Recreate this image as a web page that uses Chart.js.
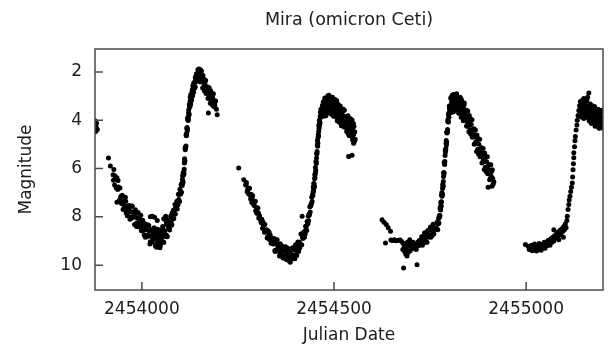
<!DOCTYPE html>
<html>
<head>
<meta charset="utf-8">
<script src="https://cdn.jsdelivr.net/npm/chart.js@4.4.1/dist/chart.umd.min.js"></script>
<style>
  html, body { margin: 0; padding: 0; background: #fff; }
  #wrap { width: 609px; height: 351px; }
</style>
</head>
<body>
<div id="wrap"><canvas id="lightcurve" width="609" height="351"></canvas></div>
<script>
// Mira (omicron Ceti) visual light curve: [Julian Date, magnitude]
const chartTitle = 'Mira (omicron Ceti)';
const xTitle = 'Julian Date';
const yTitle = 'Magnitude';
const xTicks = [2454000, 2454500, 2455000];
const yTicks = [2, 4, 6, 8, 10];
const xRange = [2453878, 2455200];
const yRange = [1.05, 11.03];

const season1 = [
  [2453878,4.02],[2453879,4.18],[2453880,4.47],[2453881,4.29],[2453882,4.12],[2453884,4.38]
];

const season2 = [
  [2453913,5.56],[2453918,5.90],[2453935,7.40],
  [2453925,6.26],[2453927,6.04],[2453929,6.68],[2453931,6.44],[2453933,6.80],[2453935,6.38],[2453937,6.87],[2453939,6.76],[2453941,7.35],[2453943,6.81],
  [2453945,7.18],[2453947,7.45],[2453949,7.11],[2453951,7.70],[2453953,7.35],[2453955,7.64],[2453957,7.19],[2453959,7.83],[2453961,7.55],[2453963,7.70],
  [2453965,7.81],[2453967,7.53],[2453969,8.10],[2453971,7.78],[2453973,8.06],[2453975,7.56],[2453977,7.98],[2453979,7.80],[2453981,8.32],[2453983,7.71],
  [2453985,8.03],[2453987,8.24],[2453989,7.84],[2453991,8.41],[2453993,8.07],[2453995,8.37],[2453997,7.93],[2453999,8.58],[2454001,8.30],[2454003,8.45],
  [2454005,8.56],[2454007,8.28],[2454009,8.85],[2454011,8.53],[2454013,8.82],[2454015,8.33],[2454017,8.76],[2454019,8.59],[2454021,9.12],[2454023,8.52],
  [2454025,8.83],[2454027,9.04],[2454029,8.64],
  [2453926,6.48],[2453930,6.31],[2453934,6.79],[2453938,6.50],[2453942,7.30],[2453946,7.15],[2453950,7.44],[2453954,7.59],[2453958,7.35],[2453962,7.96],
  [2453966,7.68],[2453970,8.01],[2453974,7.55],[2453978,8.00],[2453982,7.84],[2453986,8.40],[2453990,7.82],[2453994,8.20],[2453998,8.48],[2454002,8.14],
  [2454006,8.75],[2454010,8.44],[2454014,8.77],[2454018,8.36],[2454022,9.03],[2454026,8.78],[2454030,8.94],
  [2454031,8.92],[2454033,8.58],[2454035,9.20],[2454037,8.81],[2454039,9.10],[2454041,8.51],[2454043,8.96],[2454045,8.72],[2454047,9.28],[2454049,8.55],
  [2454051,8.85],[2454053,9.02],[2454055,8.50],[2454057,9.06],[2454059,8.58],[2454061,8.81],[2454063,8.18],[2454065,8.78],[2454067,8.35],[2454069,8.39],
  [2454032,8.45],[2454034,8.91],[2454036,8.68],[2454038,9.26],[2454040,8.55],[2454042,8.88],[2454044,9.08],[2454046,8.60],[2454048,9.20],[2454050,8.74],
  [2454052,9.00],[2454054,8.40],[2454056,9.04],[2454058,8.64],[2454060,8.72],[2454062,8.74],[2454064,8.30],[2454066,8.83],[2454068,8.35],
  [2454022,8.00],[2454027,7.98],[2454033,8.02],[2454057,8.08],[2454062,7.98],[2454066,8.12],[2454040,8.15],
  [2454070,8.48],[2454071,8.21],[2454072,8.55],[2454073,8.25],[2454074,8.39],[2454075,7.97],[2454076,8.21],[2454077,8.02],[2454078,8.33],[2454079,7.84],
  [2454080,8.00],[2454081,8.09],[2454082,7.73],[2454083,8.07],[2454084,7.75],[2454085,7.89],[2454086,7.49],[2454087,7.88],[2454088,7.60],[2454089,7.63],
  [2454090,7.63],[2454091,7.35],[2454092,7.68],[2454093,7.37],[2454094,7.50],[2454095,7.06],[2454096,7.28],[2454097,7.08],[2454098,7.37],[2454099,6.86],
  [2454100,7.00],[2454101,7.05],[2454102,6.67],[2454103,6.98],[2454104,6.62],[2454105,6.70],[2454106,6.30],[2454107,6.55],[2454108,6.25],[2454109,6.15],
  [2454110,6.03],[2454111,5.60],[2454112,5.68],[2454113,5.22],[2454114,5.12],[2454115,4.62],[2454116,4.64],[2454117,4.34],[2454118,4.45],[2454119,3.95],
  [2454120,3.98],[2454121,3.94],[2454122,3.57],[2454123,3.74],[2454124,3.39],[2454125,3.43],[2454126,3.05],[2454127,3.29],[2454128,3.03],[2454129,3.02],
  [2454130,2.98],[2454131,2.75],[2454132,2.99],[2454133,2.74],[2454134,2.82],[2454135,2.46],[2454136,2.62],[2454137,2.43],[2454138,2.65],[2454139,2.23],
  [2454140,2.33],[2454141,2.38],[2454142,2.08],[2454143,2.34],[2454144,2.09],[2454145,2.19],[2454146,1.90],[2454147,2.20],[2454148,2.00],[2454149,2.04],
  [2454105.5,6.45],[2454106.5,6.60],[2454107.5,6.17],[2454108.5,6.26],[2454109.5,6.23],[2454110.5,5.77],[2454111.5,5.73],[2454112.5,5.17],[2454113.5,5.12],
  [2454114.5,5.07],[2454115.5,4.57],[2454116.5,4.59],[2454117.5,4.30],[2454118.5,4.37],[2454119.5,3.89],[2454120.5,4.01],[2454121.5,3.69],[2454122.5,3.78],
  [2454123.5,3.34],[2454124.5,3.44],[2454125.5,3.20],[2454126.5,3.35],[2454127.5,2.93],[2454128.5,3.08],[2454129.5,3.16],[2454130.5,2.84],[2454131.5,2.96],
  [2454132.5,2.58],[2454133.5,2.73],[2454134.5,2.84],[2454135.5,2.48],[2454136.5,2.63],[2454137.5,2.45],[2454138.5,2.61],[2454139.5,2.21],[2454140.5,2.40],
  [2454150,2.19],[2454151,1.94],[2454152,2.42],[2454153,2.15],[2454154,2.39],[2454155,1.97],[2454156,2.34],[2454157,2.20],[2454158,2.66],[2454159,2.15],
  [2454160,2.43],[2454161,2.62],[2454162,2.30],[2454163,2.79],[2454164,2.49],[2454165,2.74],[2454166,2.35],[2454167,2.89],[2454168,2.65],[2454169,2.77],
  [2454170,2.86],[2454171,2.62],[2454172,3.10],[2454173,2.83],[2454174,3.07],[2454175,2.65],[2454176,3.01],[2454177,2.85],[2454178,3.30],[2454179,2.78],
  [2454180,3.05],[2454181,3.22],[2454182,2.89],[2454183,3.36],[2454184,3.06],[2454185,3.29],[2454186,2.90],[2454187,3.43],[2454188,3.19],[2454189,3.30],
  [2454190,3.39],[2454192,3.20],[2454194,3.55],[2454196,3.77],[2454149,1.88],[2454153,1.92],[2454147,1.95],[2454173,3.70]
];

const season3 = [
  [2454252,5.98],[2454265,6.46],
  [2454270,6.68],[2454272,6.58],[2454274,6.96],[2454276,6.83],[2454278,7.05],[2454280,6.82],[2454282,7.11],[2454284,7.06],[2454286,7.41],[2454288,7.12],
  [2454290,7.36],[2454292,7.53],[2454294,7.37],[2454296,7.75],[2454298,7.61],[2454300,7.83],[2454302,7.63],[2454304,8.05],[2454306,7.95],[2454308,8.09],
  [2454310,8.21],[2454312,8.10],[2454314,8.47],[2454316,8.34],[2454318,8.55],[2454320,8.32],[2454322,8.60],[2454324,8.54],[2454326,8.88],[2454328,8.58],
  [2454330,8.79],[2454332,8.94],[2454334,8.75],[2454336,9.09],[2454338,8.91],[2454340,9.08],
  [2454271,6.66],[2454275,6.91],[2454279,6.82],[2454283,7.26],[2454287,7.19],[2454291,7.48],[2454295,7.35],[2454299,7.85],[2454303,7.83],[2454307,8.05],
  [2454311,8.24],[2454315,8.21],[2454319,8.64],[2454323,8.57],[2454327,8.83],[2454331,8.64],[2454335,8.95],[2454339,8.91],
  [2454342,9.13],[2454344,8.90],[2454346,9.39],[2454348,9.12],[2454350,9.37],[2454352,8.95],[2454354,9.32],[2454356,9.17],[2454358,9.62],[2454360,9.11],
  [2454362,9.38],[2454364,9.56],[2454366,9.23],[2454368,9.71],[2454370,9.41],[2454372,9.64],[2454374,9.24],[2454376,9.77],[2454378,9.52],[2454380,9.63],
  [2454382,9.70],[2454384,9.43],[2454386,9.88],[2454388,9.57],[2454390,9.76],[2454392,9.28],[2454394,9.58],[2454396,9.36],[2454398,9.74],[2454400,9.16],
  [2454402,9.35],[2454404,9.45],[2454406,9.04],[2454408,9.44],[2454410,9.05],[2454412,9.19],[2454414,8.71],[2454416,9.16],[2454418,8.82],[2454420,8.83],
  [2454343,8.94],[2454347,9.44],[2454351,8.97],[2454355,9.27],[2454359,9.49],[2454363,9.19],[2454367,9.69],[2454371,9.42],[2454375,9.67],[2454379,9.29],
  [2454383,9.82],[2454387,9.54],[2454391,9.60],[2454395,9.59],[2454399,9.24],[2454403,9.60],[2454407,9.20],[2454411,9.28],[2454415,8.71],[2454419,8.90],
  [2454417,7.98],
  [2454421,8.81],[2454422,8.62],[2454423,8.85],[2454424,8.63],[2454425,8.71],[2454426,8.39],[2454427,8.54],[2454428,8.38],[2454429,8.57],[2454430,8.19],
  [2454431,8.26],[2454432,8.29],[2454433,7.98],[2454434,8.16],[2454435,7.89],[2454436,7.92],[2454437,7.58],[2454438,7.80],[2454439,7.55],[2454440,7.52],
  [2454441,7.45],[2454442,7.19],[2454443,7.36],[2454444,7.09],[2454445,7.12],[2454446,6.76],[2454447,6.85],[2454448,6.63],[2454449,6.73],[2454450,6.26],
  [2454451,6.23],[2454452,6.14],[2454453,5.72],[2454454,5.79],[2454455,5.39],[2454456,5.29],[2454457,4.84],[2454458,4.95],[2454459,4.60],[2454460,4.47],
  [2454461,4.34],[2454462,4.02],[2454463,4.15],[2454464,3.83],[2454465,3.88],[2454466,3.54],[2454467,3.69],[2454468,3.53],[2454469,3.74],[2454470,3.38],
  [2454445.5,6.96],[2454446.5,6.95],[2454447.5,6.62],[2454448.5,6.76],[2454449.5,6.42],[2454450.5,6.38],[2454451.5,5.96],[2454452.5,6.08],[2454453.5,5.71],
  [2454454.5,5.56],[2454455.5,5.38],[2454456.5,5.01],[2454457.5,5.08],[2454458.5,4.71],[2454459.5,4.65],[2454460.5,4.21],[2454461.5,4.25],[2454462.5,3.99],
  [2454463.5,4.10],[2454464.5,3.67],
  [2454471,3.61],[2454472,3.24],[2454473,3.83],[2454474,3.42],[2454475,3.69],[2454476,3.08],[2454477,3.51],[2454478,3.26],[2454479,3.81],[2454480,3.08],
  [2454481,3.40],[2454482,3.59],[2454483,3.11],[2454484,3.70],[2454485,3.26],[2454486,3.53],[2454487,2.97],[2454488,3.64],[2454489,3.28],[2454490,3.39],
  [2454491,3.48],[2454492,3.13],[2454493,3.74],[2454494,3.35],[2454495,3.64],[2454496,3.05],[2454497,3.50],[2454498,3.27],[2454499,3.84],[2454500,3.13],
  [2454501,3.47],[2454502,3.69],[2454503,3.23],[2454504,3.85],[2454505,3.43],[2454506,3.73],[2454507,3.19],[2454508,3.89],[2454509,3.55],[2454510,3.69],
  [2454511,3.79],[2454512,3.45],[2454513,4.07],[2454514,3.69],[2454515,3.99],[2454516,3.41],[2454517,3.87],[2454518,3.65],[2454519,4.23],[2454520,3.53],
  [2454521,3.87],[2454522,4.09],[2454523,3.63],[2454524,4.25],[2454525,3.83],[2454526,4.13],[2454527,3.59],[2454528,4.29],[2454529,3.95],[2454530,4.09],
  [2454531,4.19],[2454532,3.85],[2454533,4.47],[2454534,4.09],[2454535,4.39],[2454536,3.81],[2454537,4.27],[2454538,4.05],[2454539,4.63],[2454540,3.93],
  [2454541,4.27],[2454542,4.49],[2454543,4.03],[2454544,4.65],[2454545,4.23],[2454546,4.53],[2454547,3.99],[2454548,4.69],[2454549,4.35],[2454550,4.49],
  [2454551,4.59],[2454552,4.25],[2454553,4.87],[2454554,4.49],[2454555,4.79],
  [2454472.5,3.48],[2454474.5,3.66],[2454476.5,3.16],[2454478.5,3.74],[2454480.5,3.28],[2454482.5,3.55],[2454484.5,2.98],[2454486.5,3.65],[2454488.5,3.28],
  [2454490.5,3.40],[2454492.5,3.50],[2454494.5,3.16],[2454496.5,3.78],[2454498.5,3.40],[2454500.5,3.70],[2454502.5,3.14],[2454504.5,3.62],[2454506.5,3.42],
  [2454508.5,4.02],[2454510.5,3.34],[2454512.5,3.70],[2454514.5,3.94],[2454516.5,3.50],[2454518.5,4.14],[2454520.5,3.74],[2454522.5,4.06],[2454524.5,3.54],
  [2454526.5,4.26],[2454528.5,3.94],[2454530.5,4.10],[2454532.5,4.22],[2454534.5,3.90],[2454536.5,4.54],[2454538.5,4.18],[2454540.5,4.50],[2454542.5,3.94],
  [2454544.5,4.42],[2454546.5,4.22],[2454548.5,4.82],[2454550.5,4.14],
  [2454538,5.50],[2454547,5.45],[2454551,4.95]
];

const season4 = [
  [2454625,8.12],[2454630,8.22],[2454636,8.32],[2454641,8.45],[2454647,8.60],[2454634,9.08],[2454655,8.97],
  [2454648,8.96],[2454652,8.98],[2454657,8.95],[2454662,8.99],[2454667,8.97],[2454672,8.96],[2454676,9.02],[2454680,9.10],[2454683,9.25],[2454679,9.35],
  [2454684,9.45],[2454687,9.55],[2454690,9.62],[2454693,9.48],[2454688,9.30],[2454695,9.20],[2454698,9.40],[2454700,9.12],[2454703,9.32],[2454706,9.05],
  [2454709,9.25],[2454712,9.15],[2454714,9.35],[2454716,9.98],[2454681,10.12],[2454718,9.05],[2454720,9.20],[2454722,8.98],[2454724,9.12],[2454691,9.05],
  [2454685,9.12],[2454697,8.95],
  [2454726,9.07],[2454728,8.82],[2454730,9.18],[2454732,8.90],[2454734,9.06],[2454736,8.66],[2454738,8.91],[2454740,8.73],[2454742,9.05],[2454744,8.57],
  [2454746,8.74],[2454748,8.84],[2454750,8.50],[2454752,8.85],[2454754,8.54],[2454756,8.69],[2454758,8.31],[2454760,8.71],[2454762,8.45],[2454764,8.50],
  [2454766,8.51],[2454768,8.22],[2454770,8.53],
  [2454727,8.98],[2454731,9.07],[2454735,8.72],[2454739,9.05],[2454743,8.71],[2454747,8.83],[2454751,8.42],[2454755,8.78],[2454759,8.50],[2454763,8.52],
  [2454767,8.48],
  [2454771,8.30],[2454772,8.07],[2454773,8.26],[2454774,7.98],[2454775,8.01],[2454776,7.64],[2454777,7.69],[2454778,7.43],[2454779,7.56],[2454780,7.11],
  [2454781,7.10],[2454782,7.04],[2454783,6.65],[2454784,6.74],[2454785,6.33],[2454786,6.22],[2454787,5.74],[2454788,5.83],[2454789,5.46],[2454790,5.32],
  [2454791,5.17],[2454792,4.84],[2454793,4.91],[2454794,4.53],[2454795,4.49],[2454796,4.04],[2454797,4.06],[2454798,3.78],[2454799,3.88],[2454800,3.41],
  [2454801,3.47],[2454802,3.49],
  [2454774.5,7.95],[2454775.5,7.94],[2454776.5,7.59],[2454777.5,7.72],[2454778.5,7.39],[2454779.5,7.38],[2454780.5,7.00],[2454781.5,7.15],[2454782.5,6.83],
  [2454783.5,6.71],[2454784.5,6.54],[2454785.5,6.16],[2454786.5,6.19],[2454787.5,5.79],[2454788.5,5.71],[2454789.5,5.24],[2454790.5,5.25],[2454791.5,4.96],
  [2454792.5,5.03],[2454793.5,4.51],[2454794.5,4.46],[2454795.5,4.38],[2454796.5,3.98],[2454797.5,4.07],[2454798.5,3.73],[2454799.5,3.69],
  [2454803,3.47],[2454804,3.10],[2454805,3.68],[2454806,3.27],[2454807,3.53],[2454808,2.95],[2454809,3.34],[2454810,3.09],[2454811,3.65],[2454812,2.93],
  [2454813,3.25],[2454814,3.45],[2454815,2.97],[2454816,3.57],[2454817,3.13],[2454818,3.41],[2454819,2.90],[2454820,3.56],[2454821,3.21],[2454822,3.35],
  [2454823,3.44],[2454824,3.10],[2454825,3.71],[2454826,3.33],[2454827,3.63],[2454828,3.05],[2454829,3.52],[2454830,3.30],[2454831,3.88],[2454832,3.18],
  [2454833,3.53],[2454834,3.76],[2454835,3.30],[2454836,3.93],[2454837,3.52],[2454838,3.83],[2454839,3.29],[2454840,4.00],[2454841,3.67],[2454842,3.83],
  [2454843,3.94],[2454844,3.61],[2454845,4.24],[2454846,3.88],[2454847,4.19],[2454848,3.62],[2454849,4.09],[2454850,3.89],[2454851,4.48],[2454852,3.80],
  [2454853,4.15],[2454854,4.39],[2454855,3.94],[2454856,4.58],[2454857,4.18],[2454858,4.50],[2454859,3.98],[2454860,4.70],[2454861,4.38],[2454862,4.54],
  [2454863,4.66],[2454864,4.35],[2454865,4.99],[2454866,4.64],[2454867,4.96],[2454868,4.40],[2454869,4.89],[2454870,4.69],[2454871,5.29],[2454872,4.61],
  [2454873,4.96],[2454874,5.20],[2454875,4.76],[2454876,5.40],[2454877,4.99],[2454878,5.31],[2454879,4.79],[2454880,5.51],[2454881,5.18],[2454882,5.34],
  [2454883,5.46],[2454884,5.14],[2454885,5.77],[2454886,5.41],[2454887,5.73],[2454888,5.17],[2454889,5.64],[2454890,5.44],[2454891,6.04],[2454892,5.36],
  [2454893,5.71],[2454894,5.95],[2454895,5.50],[2454896,6.13],[2454897,5.72],[2454898,6.04],[2454899,5.51],[2454900,6.22],[2454901,5.89],[2454902,6.04],
  [2454903,6.15],[2454904,5.83],[2454905,6.46],[2454906,6.09],[2454907,6.41],[2454908,5.84],[2454909,6.32],[2454910,6.12],[2454911,6.73],[2454912,6.05],
  [2454913,6.41],[2454914,6.65],[2454916,6.55],[2454901,6.78],
  [2454800.5,3.53],[2454802.5,3.58],[2454804.5,3.05],[2454806.5,3.62],[2454808.5,3.15],[2454810.5,3.41],[2454812.5,2.95],[2454814.5,3.53],[2454816.5,3.17],
  [2454818.5,3.30],[2454820.5,3.40],[2454822.5,3.07],[2454824.5,3.70],[2454826.5,3.34],[2454828.5,3.66],[2454830.5,3.11],[2454832.5,3.59],[2454834.5,3.41],
  [2454836.5,4.02],[2454838.5,3.36],[2454840.5,3.74],[2454842.5,4.00],[2454844.5,3.59],[2454846.5,4.25],[2454848.5,3.88],[2454850.5,4.22]
];

const season5 = [
  [2454998,9.15],
  [2455005,9.22],[2455008,9.35],[2455011,9.28],[2455014,9.18],[2455016,9.40],[2455019,9.25],[2455022,9.12],[2455024,9.33],[2455027,9.42],[2455029,9.20],
  [2455032,9.30],[2455034,9.10],[2455037,9.27],[2455039,9.38],[2455042,9.15],[2455044,9.24],[2455047,9.05],[2455049,9.30],[2455052,9.12],[2455054,9.20],
  [2455057,8.98],[2455059,9.10],[2455062,9.18],[2455064,8.92],[2455067,9.05],[2455069,8.85],[2455072,9.00],[2455074,8.78],[2455077,8.90],[2455079,8.70],
  [2455082,8.82],[2455084,8.62],[2455087,8.75],[2455089,8.55],[2455091,8.68],[2455094,8.48],[2455096,8.60],[2455098,8.40],[2455100,8.52],[2455102,8.30],
  [2455104,8.45],[2455106,8.15],[2455097,8.85],[2455085,8.95],[2455072,8.53],
  [2455107,7.98],[2455109,7.70],[2455111,7.49],[2455112,7.30],[2455114,7.15],[2455116,6.95],[2455118,6.78],[2455120,6.60],[2455121,6.35],[2455122,6.05],
  [2455123,5.80],[2455124,5.55],[2455124,5.35],[2455126,5.10],[2455127,4.85],[2455128,4.67],[2455130,4.40],[2455132,4.20],[2455133,4.00],[2455135,3.80],
  [2455137,3.60],[2455139,3.40],[2455141,3.22],
  [2455142,3.62],[2455143,3.26],[2455144,3.87],[2455145,3.47],[2455146,3.76],[2455147,3.16],[2455148,3.60],[2455149,3.37],[2455150,3.93],[2455151,3.22],
  [2455152,3.54],[2455153,3.74],[2455154,3.27],[2455155,3.87],[2455156,3.44],[2455157,3.73],[2455158,3.18],[2455159,3.88],[2455160,3.53],[2455161,3.66],
  [2455162,3.75],[2455163,3.40],[2455164,4.02],[2455165,3.63],[2455166,3.92],[2455167,3.33],[2455168,3.78],[2455169,3.55],[2455170,4.13],[2455171,3.42],
  [2455172,3.75],[2455173,3.96],[2455174,3.50],[2455175,4.11],[2455176,3.68],[2455177,3.97],[2455178,3.43],[2455179,4.12],[2455180,3.77],[2455181,3.90],
  [2455182,3.99],[2455183,3.63],[2455184,4.24],[2455185,3.85],[2455186,4.14],[2455187,3.54],[2455188,3.99],[2455189,3.76],[2455190,4.33],[2455191,3.61],
  [2455192,3.94],[2455193,4.15],[2455194,3.68],[2455195,4.30],[2455196,3.88],[2455197,4.17],[2455198,3.62],[2455199,4.32],[2455200,3.97],
  [2455143.5,3.51],[2455145.5,3.72],[2455147.5,3.24],[2455149.5,3.85],[2455151.5,3.42],[2455153.5,3.71],[2455155.5,3.16],[2455157.5,3.86],[2455159.5,3.52],
  [2455161.5,3.67],[2455163.5,3.77],[2455165.5,3.43],[2455167.5,4.06],[2455169.5,3.68],[2455171.5,3.99],[2455173.5,3.41],[2455175.5,3.88],[2455177.5,3.66],
  [2455179.5,4.25],[2455181.5,3.54],[2455183.5,3.88],[2455185.5,4.09],[2455187.5,3.63],[2455189.5,4.24],[2455191.5,3.82],[2455193.5,4.12],[2455195.5,3.59],
  [2455197.5,4.30],[2455199.5,3.96],
  [2455163,2.87],[2455160,3.05],[2455150,3.10]
];

const observations = [...season1, ...season2, ...season3, ...season4, ...season5]
  .map(([jd, mag]) => ({ x: jd, y: mag }));

const FONT = 'DejaVu Sans';
const INK = '#1c1c1c';
const FRAME = '#4a4a4a';

// box around the plotting region, with short tick marks pointing inward
const frameBox = {
  id: 'frameBox',
  afterDraw(chart) {
    const { ctx, chartArea: a, scales } = chart;
    ctx.save();
    ctx.strokeStyle = FRAME;
    ctx.lineWidth = 1.5;
    ctx.strokeRect(a.left, a.top, a.right - a.left, a.bottom - a.top);
    ctx.beginPath();
    xTicks.forEach(v => {
      const px = scales.x.getPixelForValue(v);
      ctx.moveTo(px, a.bottom);
      ctx.lineTo(px, a.bottom - 8);
    });
    yTicks.forEach(v => {
      const py = scales.y.getPixelForValue(v);
      ctx.moveTo(a.left, py);
      ctx.lineTo(a.left + 8, py);
    });
    ctx.stroke();
    ctx.restore();
  }
};

new Chart(document.getElementById('lightcurve'), {
  type: 'scatter',
  data: {
    datasets: [{
      data: observations,
      pointRadius: 2.5,
      pointHoverRadius: 2.5,
      pointBackgroundColor: '#000',
      pointBorderWidth: 0,
      showLine: false
    }]
  },
  options: {
    responsive: false,
    animation: false,
    events: [],
    layout: { padding: { left: 0, right: 6, top: 0, bottom: 0 } },
    plugins: {
      legend: { display: false },
      tooltip: { enabled: false },
      title: {
        display: true,
        text: chartTitle,
        fullSize: false,
        color: INK,
        font: { family: FONT, size: 17.5, weight: 'normal' },
        padding: { top: 10, bottom: 18 }
      }
    },
    scales: {
      x: {
        type: 'linear',
        min: xRange[0],
        max: xRange[1],
        afterBuildTicks: s => { s.ticks = xTicks.map(v => ({ value: v })); },
        afterFit: s => { s.height = 61; },
        grid: { display: false, drawTicks: false },
        border: { display: false },
        ticks: {
          color: INK,
          padding: 9,
          maxRotation: 0,
          font: { family: FONT, size: 17 },
          callback: v => String(v)
        },
        title: {
          display: true,
          text: xTitle,
          color: INK,
          font: { family: FONT, size: 17 },
          padding: { top: 0, bottom: 5 }
        }
      },
      y: {
        type: 'linear',
        reverse: true,
        min: yRange[0],
        max: yRange[1],
        afterBuildTicks: s => { s.ticks = yTicks.map(v => ({ value: v })); },
        afterFit: s => { s.width = 95; },
        grid: { display: false, drawTicks: false },
        border: { display: false },
        ticks: {
          color: INK,
          padding: 13,
          font: { family: FONT, size: 17 },
          callback: v => String(v)
        },
        title: {
          display: true,
          text: yTitle,
          color: INK,
          font: { family: FONT, size: 17 },
          padding: { top: 16, bottom: 0 }
        }
      }
    }
  },
  plugins: [frameBox]
});
</script>
</body>
</html>
